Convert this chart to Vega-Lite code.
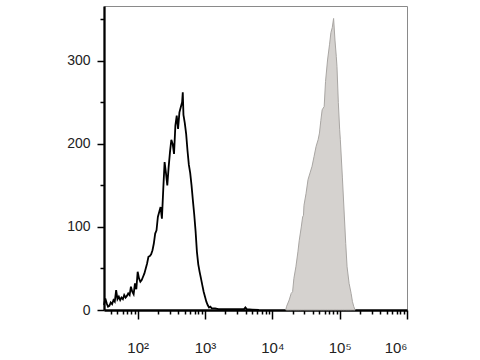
{
  "$schema": "https://vega.github.io/schema/vega-lite/v6.json",
  "width": 303,
  "height": 304,
  "autosize": "none",
  "padding": {"left": 104, "top": 6, "right": 73, "bottom": 50},
  "background": "white",
  "config": {
    "view": {"stroke": "#8a8a8a", "strokeWidth": 1},
    "axis": {"labelFont": "Liberation Sans", "grid": false, "title": null, "domainColor": "black", "domainWidth": 2.3, "tickColor": "black", "tickWidth": 1.5, "labelColor": "#222", "labelFontSize": 14, "labelOverlap": false, "zindex": 1}
  },
  "datasets": {
    "neg": [
      {"intensity": 31.62, "count": 6}, {"intensity": 33.1, "count": 14}, {"intensity": 34.7, "count": 8},
      {"intensity": 36.3, "count": 4}, {"intensity": 38.0, "count": 5}, {"intensity": 39.8, "count": 9},
      {"intensity": 41.7, "count": 7}, {"intensity": 43.7, "count": 12}, {"intensity": 45.7, "count": 10},
      {"intensity": 47.9, "count": 24}, {"intensity": 50.1, "count": 13}, {"intensity": 52.5, "count": 16},
      {"intensity": 55.0, "count": 12}, {"intensity": 57.5, "count": 15}, {"intensity": 60.3, "count": 13},
      {"intensity": 63.1, "count": 18}, {"intensity": 66.1, "count": 15}, {"intensity": 69.2, "count": 17},
      {"intensity": 72.4, "count": 20}, {"intensity": 75.9, "count": 18}, {"intensity": 79.4, "count": 28},
      {"intensity": 83.2, "count": 22}, {"intensity": 87.1, "count": 19}, {"intensity": 91.2, "count": 32},
      {"intensity": 95.5, "count": 25}, {"intensity": 100, "count": 46}, {"intensity": 104.7, "count": 38},
      {"intensity": 109.6, "count": 34}, {"intensity": 114.8, "count": 36}, {"intensity": 120.2, "count": 40},
      {"intensity": 125.9, "count": 44}, {"intensity": 131.8, "count": 50}, {"intensity": 138.0, "count": 56},
      {"intensity": 144.5, "count": 64}, {"intensity": 151.4, "count": 65}, {"intensity": 158.5, "count": 67},
      {"intensity": 166.0, "count": 72}, {"intensity": 173.8, "count": 80}, {"intensity": 182.0, "count": 92},
      {"intensity": 190.5, "count": 96}, {"intensity": 199.5, "count": 112}, {"intensity": 208.9, "count": 118},
      {"intensity": 218.8, "count": 124}, {"intensity": 229.1, "count": 110}, {"intensity": 239.9, "count": 145},
      {"intensity": 251.2, "count": 178}, {"intensity": 263.0, "count": 165}, {"intensity": 275.4, "count": 150},
      {"intensity": 288.4, "count": 172}, {"intensity": 302.0, "count": 190}, {"intensity": 316.2, "count": 205},
      {"intensity": 331.1, "count": 200}, {"intensity": 346.7, "count": 188}, {"intensity": 363.1, "count": 222},
      {"intensity": 380.2, "count": 234}, {"intensity": 398.1, "count": 218}, {"intensity": 416.9, "count": 238},
      {"intensity": 436.5, "count": 244}, {"intensity": 457.1, "count": 250}, {"intensity": 467.7, "count": 262},
      {"intensity": 478.6, "count": 235}, {"intensity": 501.2, "count": 225}, {"intensity": 524.8, "count": 212},
      {"intensity": 549.5, "count": 192}, {"intensity": 575.4, "count": 175}, {"intensity": 602.6, "count": 165},
      {"intensity": 631.0, "count": 150}, {"intensity": 660.7, "count": 132}, {"intensity": 691.8, "count": 115},
      {"intensity": 724.4, "count": 95}, {"intensity": 758.6, "count": 70}, {"intensity": 794.3, "count": 55},
      {"intensity": 831.8, "count": 46}, {"intensity": 871.0, "count": 38}, {"intensity": 912.0, "count": 30},
      {"intensity": 955.0, "count": 22}, {"intensity": 1000, "count": 16}, {"intensity": 1047, "count": 10},
      {"intensity": 1096, "count": 6}, {"intensity": 1148, "count": 3}, {"intensity": 1202, "count": 4},
      {"intensity": 1259, "count": 2}, {"intensity": 1413, "count": 2}, {"intensity": 1585, "count": 1},
      {"intensity": 1995, "count": 1}, {"intensity": 2512, "count": 1}, {"intensity": 3162, "count": 1},
      {"intensity": 3802, "count": 1}, {"intensity": 3981, "count": 3}, {"intensity": 4169, "count": 1},
      {"intensity": 5012, "count": 0.5}, {"intensity": 6310, "count": 0}
    ],
    "pos": [
      {"intensity": 15849, "count": 0}, {"intensity": 16218, "count": 4}, {"intensity": 17783, "count": 12},
      {"intensity": 19055, "count": 20}, {"intensity": 20000, "count": 22}, {"intensity": 20893, "count": 38},
      {"intensity": 22387, "count": 52}, {"intensity": 23988, "count": 70}, {"intensity": 25119, "count": 84},
      {"intensity": 26915, "count": 100}, {"intensity": 28184, "count": 112}, {"intensity": 29000, "count": 114},
      {"intensity": 29512, "count": 126}, {"intensity": 31623, "count": 140}, {"intensity": 33884, "count": 157},
      {"intensity": 36308, "count": 165}, {"intensity": 38905, "count": 173}, {"intensity": 41687, "count": 185},
      {"intensity": 44668, "count": 197}, {"intensity": 47863, "count": 205}, {"intensity": 50119, "count": 213},
      {"intensity": 52481, "count": 228}, {"intensity": 54954, "count": 241}, {"intensity": 58884, "count": 245},
      {"intensity": 61660, "count": 275}, {"intensity": 66069, "count": 301}, {"intensity": 70795, "count": 320},
      {"intensity": 74131, "count": 334}, {"intensity": 77625, "count": 340}, {"intensity": 81283, "count": 351},
      {"intensity": 85114, "count": 325}, {"intensity": 89125, "count": 305}, {"intensity": 91201, "count": 293},
      {"intensity": 95499, "count": 250}, {"intensity": 100000, "count": 217}, {"intensity": 102329, "count": 205},
      {"intensity": 109648, "count": 160}, {"intensity": 117490, "count": 112}, {"intensity": 123027, "count": 80},
      {"intensity": 128825, "count": 52}, {"intensity": 138038, "count": 32}, {"intensity": 147911, "count": 20},
      {"intensity": 154882, "count": 10}, {"intensity": 162181, "count": 4}, {"intensity": 169824, "count": 0}
    ]
  },
  "layer": [
    {
      "data": {"name": "pos"},
      "mark": {"type": "area", "fill": "#d5d2cf", "stroke": "#a9a6a3", "strokeWidth": 1},
      "encoding": {
        "x": {
          "field": "intensity", "type": "quantitative",
          "scale": {"type": "log", "domain": [31.62, 1000000], "nice": false},
          "axis": {
            "orient": "bottom",
            "values": [40, 50, 60, 70, 80, 90, 100, 200, 300, 400, 500, 600, 700, 800, 900, 1000, 2000, 3000, 4000, 5000, 6000, 7000, 8000, 9000, 10000, 20000, 30000, 40000, 50000, 60000, 70000, 80000, 90000, 100000, 200000, 300000, 400000, 500000, 600000, 700000, 800000, 900000, 1000000],
            "labelExpr": "datum.value == 100 ? '10²' : datum.value == 1000 ? '10³' : datum.value == 10000 ? '10⁴' : datum.value == 100000 ? '10⁵' : datum.value == 1000000 ? '10⁶' : ''",
            "tickSize": {"condition": {"test": "indexof([100,1000,10000,100000,1000000], datum.value) >= 0", "value": 9}, "value": 4},
            "labelFontSize": 15,
            "labelPadding": 21
          }
        },
        "y": {
          "field": "count", "type": "quantitative",
          "scale": {"domain": [0, 366], "nice": false},
          "axis": {
            "values": [0, 25, 50, 75, 100, 125, 150, 175, 200, 225, 250, 275, 300, 325, 350],
            "labelExpr": "datum.value % 100 == 0 ? datum.label : ''",
            "tickSize": {"condition": {"test": "datum.value % 100 == 0", "value": 7}, "value": 4},
            "labelPadding": 7
          }
        }
      }
    },
    {
      "data": {"name": "neg"},
      "mark": {"type": "line", "color": "black", "strokeWidth": 1.8},
      "encoding": {
        "x": {
          "field": "intensity", "type": "quantitative",
          "scale": {"type": "log", "domain": [31.62, 1000000], "nice": false}
        },
        "y": {
          "field": "count", "type": "quantitative",
          "scale": {"domain": [0, 366], "nice": false}
        }
      }
    }
  ]
}
